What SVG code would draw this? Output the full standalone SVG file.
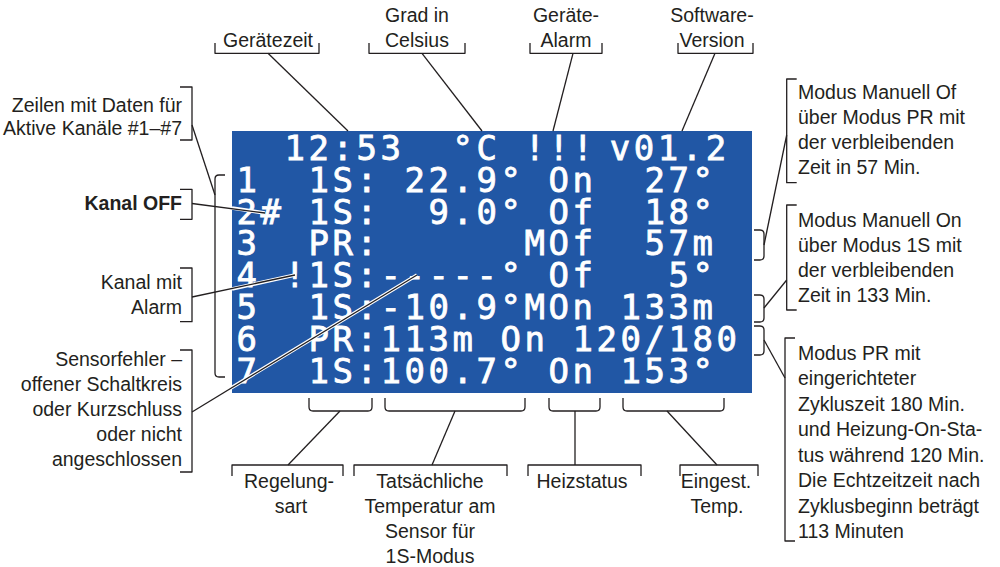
<svg xmlns="http://www.w3.org/2000/svg" width="1000" height="567" viewBox="0 0 1000 567">
<style>
.lbl{font-family:"Liberation Sans",Arial,sans-serif;font-size:19.5px;fill:#231f20}
.c{text-anchor:middle}
.e{text-anchor:end}
.b{font-weight:bold}
.lcd{font-family:"DejaVu Sans Mono",monospace;font-size:34px;letter-spacing:3.53px;fill:#fff;stroke:#fff;stroke-width:0.8;white-space:pre}
.ln{stroke:#231f20;stroke-width:1.3;fill:none;stroke-linejoin:round}
.halo{stroke:#fff;stroke-width:3.6;fill:none}
</style>
<rect width="1000" height="567" fill="#fff"/>
<g id="screen">
<rect x="232" y="131" width="520" height="262" fill="#2157a5"/>
<text class="lcd" xml:space="preserve"><tspan x="284.5" y="160">12:53</tspan><tspan x="452.5" y="160">°C</tspan><tspan x="524.5" y="160">!!!</tspan><tspan x="609.8" y="160">v01.2</tspan><tspan x="236.5" y="191.8">1  1S: 22.9° On  27°</tspan><tspan x="236.5" y="223.6">2# 1S:  9.0° Of  18°</tspan><tspan x="236.5" y="255.4">3  PR:      MOf  57m</tspan><tspan x="236.5" y="287.2">4 !1S:-----° Of   5°</tspan><tspan x="236.5" y="319">5  1S:-10.9°MOn 133m</tspan><tspan x="236.5" y="350.8">6  PR:113m On 120/180</tspan><tspan x="236.5" y="382.6">7  1S:100.7° On 153°</tspan></text>
</g>
<g id="lbl-geraetezeit">
<text class="lbl c" x="268" y="47">Gerätezeit</text>
<path class="ln" d="M215,43V53.3H319V43"/>
</g>
<g id="lbl-grad">
<text class="lbl c" x="417" y="22">Grad in</text>
<text class="lbl c" x="417" y="47">Celsius</text>
<path class="ln" d="M369,43V53.3H465V43"/>
</g>
<g id="lbl-alarm">
<text class="lbl c" x="566" y="22">Geräte-</text>
<text class="lbl c" x="566" y="47">Alarm</text>
<path class="ln" d="M530,43V53.3H602V43"/>
</g>
<g id="lbl-version">
<text class="lbl c" x="712" y="22">Software-</text>
<text class="lbl c" x="712" y="47">Version</text>
<path class="ln" d="M678,43V53.3H753V43"/>
</g>
<g id="lbl-zeilen">
<text class="lbl e" x="182" y="112">Zeilen mit Daten für</text>
<text class="lbl e" x="182" y="135">Aktive Kanäle #1–#7</text>
<path class="ln" d="M180,87H192V140H180"/>
</g>
<g id="lbl-kanaloff">
<text class="lbl e b" x="182" y="210">Kanal OFF</text>
<path class="ln" d="M180,189.3H192V219.3H180"/>
</g>
<g id="lbl-kanalalarm">
<text class="lbl e" x="182" y="289">Kanal mit</text>
<text class="lbl e" x="182" y="314">Alarm</text>
<path class="ln" d="M180,268H192V321.7H180"/>
</g>
<g id="lbl-sensor">
<text class="lbl e" x="182" y="366">Sensorfehler –</text>
<text class="lbl e" x="182" y="391">offener Schaltkreis</text>
<text class="lbl e" x="182" y="416">oder Kurzschluss</text>
<text class="lbl e" x="182" y="441">oder nicht</text>
<text class="lbl e" x="182" y="466">angeschlossen</text>
<path class="ln" d="M180,350H192V472H180"/>
</g>
<g id="lbl-manuell-of">
<text class="lbl" x="798" y="99">Modus Manuell Of</text>
<text class="lbl" x="798" y="124">über Modus PR mit</text>
<text class="lbl" x="798" y="149">der verbleibenden</text>
<text class="lbl" x="798" y="174">Zeit in 57 Min.</text>
<path class="ln" d="M796.7,79H786.7V182.7H796.7"/>
</g>
<g id="lbl-manuell-on">
<text class="lbl" x="798" y="227">Modus Manuell On</text>
<text class="lbl" x="798" y="252">über Modus 1S mit</text>
<text class="lbl" x="798" y="277">der verbleibenden</text>
<text class="lbl" x="798" y="302">Zeit in 133 Min.</text>
<path class="ln" d="M796.7,205H786.7V310H796.7"/>
</g>
<g id="lbl-pr">
<text class="lbl" x="798" y="360">Modus PR mit</text>
<text class="lbl" x="798" y="385.4">eingerichteter</text>
<text class="lbl" x="798" y="410.9">Zykluszeit 180 Min.</text>
<text class="lbl" x="798" y="436.3">und Heizung-On-Sta-</text>
<text class="lbl" x="798" y="461.7">tus während 120 Min.</text>
<text class="lbl" x="798" y="487.1">Die Echtzeitzeit nach</text>
<text class="lbl" x="798" y="512.6">Zyklusbeginn beträgt</text>
<text class="lbl" x="798" y="538">113 Minuten</text>
<path class="ln" d="M795,338H785V541H795"/>
</g>
<g id="lbl-regelung">
<text class="lbl c" x="289" y="488">Regelung-</text>
<text class="lbl c" x="291" y="513">sart</text>
<path class="ln" d="M232,476V465H343V476"/>
</g>
<g id="lbl-temperatur">
<text class="lbl c" x="430" y="488">Tatsächliche</text>
<text class="lbl c" x="430" y="513">Temperatur am</text>
<text class="lbl c" x="430" y="538">Sensor für</text>
<text class="lbl c" x="430" y="563">1S-Modus</text>
<path class="ln" d="M354,476V465H507V476"/>
</g>
<g id="lbl-heizstatus">
<text class="lbl c" x="582" y="488">Heizstatus</text>
<path class="ln" d="M528,476V465H641V476"/>
</g>
<g id="lbl-eingest">
<text class="lbl c" x="716" y="488">Eingest.</text>
<text class="lbl c" x="717" y="513">Temp.</text>
<path class="ln" d="M680,476V465H758V476"/>
</g>
<g id="connectors">
<path class="ln" d="M268,53.3L348,131"/>
<path class="ln" d="M422,53.3L482,131"/>
<path class="ln" d="M573,53.3L553,131"/>
<path class="ln" d="M715,53.3L682,131"/>
<path class="ln" d="M192,125L215,195"/>
<path class="ln" d="M225,175H219Q215,175 215,179V373Q215,377 219,377H225"/>
<path class="halo" d="M232,208L265,213"/>
<path class="ln" d="M192,203.5L265,213"/>
<path class="halo" d="M232,289L295,275"/>
<path class="ln" d="M192,297L295,275"/>
<path class="halo" d="M226,391L417,275"/>
<path class="ln" d="M192,412L417,275"/>
<path class="ln" d="M754,230H760Q764,230 764,234V256Q764,260 760,260H754"/>
<path class="ln" d="M764,245L786.7,135"/>
<path class="ln" d="M754,295H760Q764,295 764,299V318Q764,322 760,322H754"/>
<path class="ln" d="M764,308L786.7,280"/>
<path class="ln" d="M754,326H760Q764,326 764,330V351Q764,355 760,355H754"/>
<path class="ln" d="M764,340L785,378"/>
<path class="ln" d="M309,398V407Q309,411 313,411H368Q372,411 372,407V398"/>
<path class="ln" d="M340,411L288,465"/>
<path class="ln" d="M385,398V407Q385,411 389,411H521Q525,411 525,407V398"/>
<path class="ln" d="M455,411L432,465"/>
<path class="ln" d="M549,398V407Q549,411 553,411H596Q600,411 600,407V398"/>
<path class="ln" d="M575,411V465"/>
<path class="ln" d="M623,398V407Q623,411 627,411H720Q724,411 724,407V398"/>
<path class="ln" d="M667,411L717,465"/>
</g>
</svg>
